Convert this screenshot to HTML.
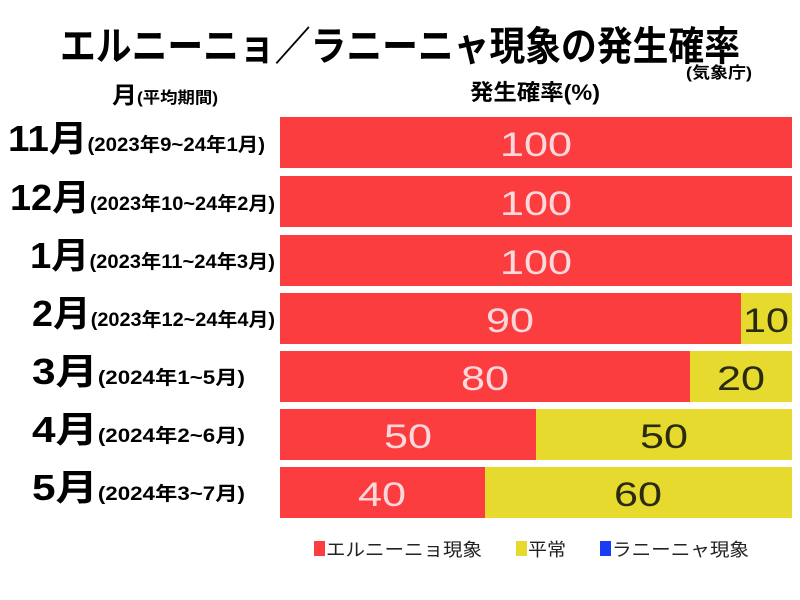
<!DOCTYPE html>
<html><head><meta charset="utf-8"><style>
html,body{margin:0;padding:0;background:#fff;width:800px;height:600px;overflow:hidden}
text{font-family:"Liberation Sans","Noto Sans CJK JP",sans-serif}
</style></head><body>
<svg width="800" height="600" xmlns="http://www.w3.org/2000/svg">
<text x="400" y="60" text-anchor="middle" font-size="40" font-weight="bold" textLength="680" lengthAdjust="spacingAndGlyphs">エルニーニョ／ラニーニャ現象の発生確率</text>
<text x="752" y="78" text-anchor="end" font-size="16" font-weight="bold" textLength="66" lengthAdjust="spacingAndGlyphs">(気象庁)</text>
<text x="112" y="103" font-size="23" font-weight="bold" textLength="106" lengthAdjust="spacingAndGlyphs">月<tspan font-size="16">(平均期間)</tspan></text>
<text x="470" y="100" font-size="22" font-weight="bold" textLength="130" lengthAdjust="spacingAndGlyphs">発生確率(%)</text>
<g font-weight="bold">
<text x="8" y="151" font-size="36" textLength="257" lengthAdjust="spacingAndGlyphs">11月<tspan font-size="19">(2023年9~24年1月)</tspan></text>
<text x="10" y="210" font-size="36" textLength="265" lengthAdjust="spacingAndGlyphs">12月<tspan font-size="19">(2023年10~24年2月)</tspan></text>
<text x="30" y="268" font-size="36" textLength="245" lengthAdjust="spacingAndGlyphs">1月<tspan font-size="19">(2023年11~24年3月)</tspan></text>
<text x="32" y="326" font-size="36" textLength="243" lengthAdjust="spacingAndGlyphs">2月<tspan font-size="19">(2023年12~24年4月)</tspan></text>
<text x="32" y="384" font-size="36" textLength="213" lengthAdjust="spacingAndGlyphs">3月<tspan font-size="19">(2024年1~5月)</tspan></text>
<text x="32" y="442" font-size="36" textLength="213" lengthAdjust="spacingAndGlyphs">4月<tspan font-size="19">(2024年2~6月)</tspan></text>
<text x="32" y="500" font-size="36" textLength="213" lengthAdjust="spacingAndGlyphs">5月<tspan font-size="19">(2024年3~7月)</tspan></text>
</g>
<g>
<rect x="280" y="117" width="512" height="51" fill="#fc3d3f"/>
<rect x="280" y="176" width="512" height="51" fill="#fc3d3f"/>
<rect x="280" y="235" width="512" height="51" fill="#fc3d3f"/>
<rect x="280" y="293" width="461" height="51" fill="#fc3d3f"/>
<rect x="741" y="293" width="51" height="51" fill="#e5da2d"/>
<rect x="280" y="351" width="410" height="51" fill="#fc3d3f"/>
<rect x="690" y="351" width="102" height="51" fill="#e5da2d"/>
<rect x="280" y="409" width="256" height="51" fill="#fc3d3f"/>
<rect x="536" y="409" width="256" height="51" fill="#e5da2d"/>
<rect x="280" y="467" width="205" height="51" fill="#fc3d3f"/>
<rect x="485" y="467" width="307" height="51" fill="#e5da2d"/>
</g>
<g font-size="34" text-anchor="middle" fill="#fbd8dc">
<text x="536" y="156" textLength="72" lengthAdjust="spacingAndGlyphs">100</text>
<text x="536" y="215" textLength="72" lengthAdjust="spacingAndGlyphs">100</text>
<text x="536" y="274" textLength="72" lengthAdjust="spacingAndGlyphs">100</text>
<text x="510" y="332" textLength="48" lengthAdjust="spacingAndGlyphs">90</text>
<text x="485" y="390" textLength="48" lengthAdjust="spacingAndGlyphs">80</text>
<text x="408" y="448" textLength="48" lengthAdjust="spacingAndGlyphs">50</text>
<text x="382" y="506" textLength="48" lengthAdjust="spacingAndGlyphs">40</text>
</g>
<g font-size="34" text-anchor="middle" fill="#2a2a10">
<text x="766" y="332" textLength="46" lengthAdjust="spacingAndGlyphs">10</text>
<text x="741" y="390" textLength="48" lengthAdjust="spacingAndGlyphs">20</text>
<text x="664" y="448" textLength="48" lengthAdjust="spacingAndGlyphs">50</text>
<text x="638" y="506" textLength="48" lengthAdjust="spacingAndGlyphs">60</text>
</g>
<g font-size="18" fill="#222">
<rect x="314" y="541" width="11" height="15" fill="#fc3d3f"/>
<text x="326" y="556" textLength="156" lengthAdjust="spacingAndGlyphs">エルニーニョ現象</text>
<rect x="516" y="541" width="11" height="15" fill="#e5da2d"/>
<text x="528" y="556" textLength="38" lengthAdjust="spacingAndGlyphs">平常</text>
<rect x="600" y="541" width="11" height="15" fill="#1b3cf5"/>
<text x="612" y="556" textLength="137" lengthAdjust="spacingAndGlyphs">ラニーニャ現象</text>
</g>
</svg>
</body></html>
